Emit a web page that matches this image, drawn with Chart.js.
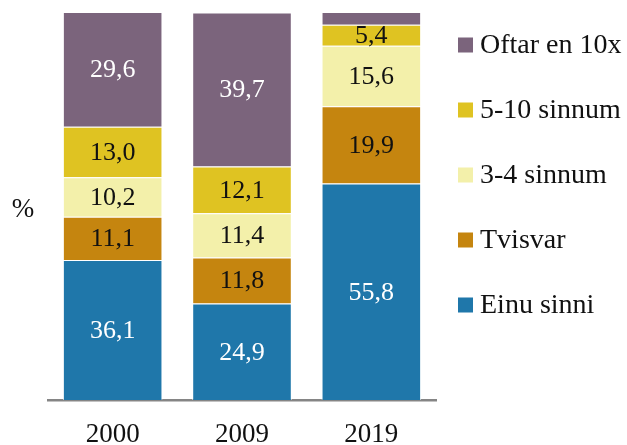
<!DOCTYPE html>
<html>
<head>
<meta charset="utf-8">
<script src="https://cdn.jsdelivr.net/npm/chart.js@4"></script>
<style>
html,body{margin:0;padding:0;background:#fff;}
#wrap{width:627px;height:445px;position:relative;}
</style>
</head>
<body>
<div id="wrap"><canvas id="c" width="627" height="445"></canvas></div>
<script>
const categories = ["2000", "2009", "2019"];
const seriesNames = ["Einu sinni", "Tvisvar", "3-4 sinnum", "5-10 sinnum", "Oftar en 10x"];
const einuSinni = [36.1, 24.9, 55.8];
const tvisvar = [11.1, 11.8, 19.9];
const triFjuraSinnum = [10.2, 11.4, 15.6];
const fimmTiggjuSinnum = [13.0, 12.1, 5.4];
const oftarEn10x = [29.6, 39.7, 3.3];
const showLabel = [[true,true,true],[true,true,true],[true,true,true],[true,true,true],[true,true,false]];
const colors = ["#1f77aa", "#c5850f", "#f3f0aa", "#dfc322", "#7b647c"];
const labelColors = ["#ffffff", "#111111", "#111111", "#111111", "#ffffff"];
const FONT = "'Liberation Serif', 'Times New Roman', serif";

const values = [einuSinni, tvisvar, triFjuraSinnum, fimmTiggjuSinnum, oftarEn10x];

const labelPlugin = {
  id: 'segLabels',
  afterDatasetsDraw(chart) {
    const ctx = chart.ctx;
    ctx.save();
    ctx.font = "26px " + FONT;
    ctx.textAlign = 'center';
    ctx.textBaseline = 'middle';
    chart.data.datasets.forEach((ds, di) => {
      const meta = chart.getDatasetMeta(di);
      meta.data.forEach((bar, i) => {
        if (!showLabel[di][i]) return;
        const p = bar.getProps(['x','y','base'], true);
        ctx.fillStyle = labelColors[di];
        ctx.fillText(ds.data[i].toFixed(1).replace('.', ','), p.x, (p.y + p.base) / 2 + 1);
      });
    });
    ctx.restore();
  }
};

const legendPlugin = {
  id: 'customLegend',
  afterDraw(chart) {
    const ctx = chart.ctx;
    ctx.save();
    ctx.font = "28px " + FONT;
    ctx.textBaseline = 'middle';
    ctx.textAlign = 'left';
    const n = chart.data.datasets.length;
    for (let k = 0; k < n; k++) {
      const di = n - 1 - k;
      const ds = chart.data.datasets[di];
      const cy = 45 + k * 65;
      ctx.fillStyle = ds.backgroundColor;
      ctx.fillRect(458, cy - 7.5, 15, 15);
      ctx.fillStyle = '#111111';
      ctx.fillText(ds.label, 480, cy + 1);
    }
    ctx.font = "27px " + FONT;
    ctx.textAlign = 'center';
    ctx.fillText('%', 23, 210);
    ctx.restore();
  }
};

new Chart(document.getElementById('c'), {
  type: 'bar',
  data: {
    labels: categories,
    datasets: values.map((v, i) => ({
      label: seriesNames[i],
      data: v,
      backgroundColor: colors[i],
      borderColor: 'rgba(255,255,255,0.75)',
      borderWidth: 1,
      barPercentage: 0.77,
      categoryPercentage: 1.0
    }))
  },
  options: {
    responsive: false,
    animation: false,
    events: [],
    layout: { padding: { left: 48, right: 191, top: 12, bottom: 0 } },
    plugins: { legend: { display: false }, tooltip: { enabled: false } },
    scales: {
      x: {
        stacked: true,
        grid: { display: false },
        border: { display: true, color: '#858585', width: 2.5 },
        ticks: { color: '#111111', font: { family: FONT, size: 27 }, padding: 11 },
        afterFit(scale) { scale.height = 45; }
      },
      y: {
        stacked: true,
        display: false,
        min: 0,
        max: 100
      }
    }
  },
  plugins: [labelPlugin, legendPlugin]
});
</script>
</body>
</html>
